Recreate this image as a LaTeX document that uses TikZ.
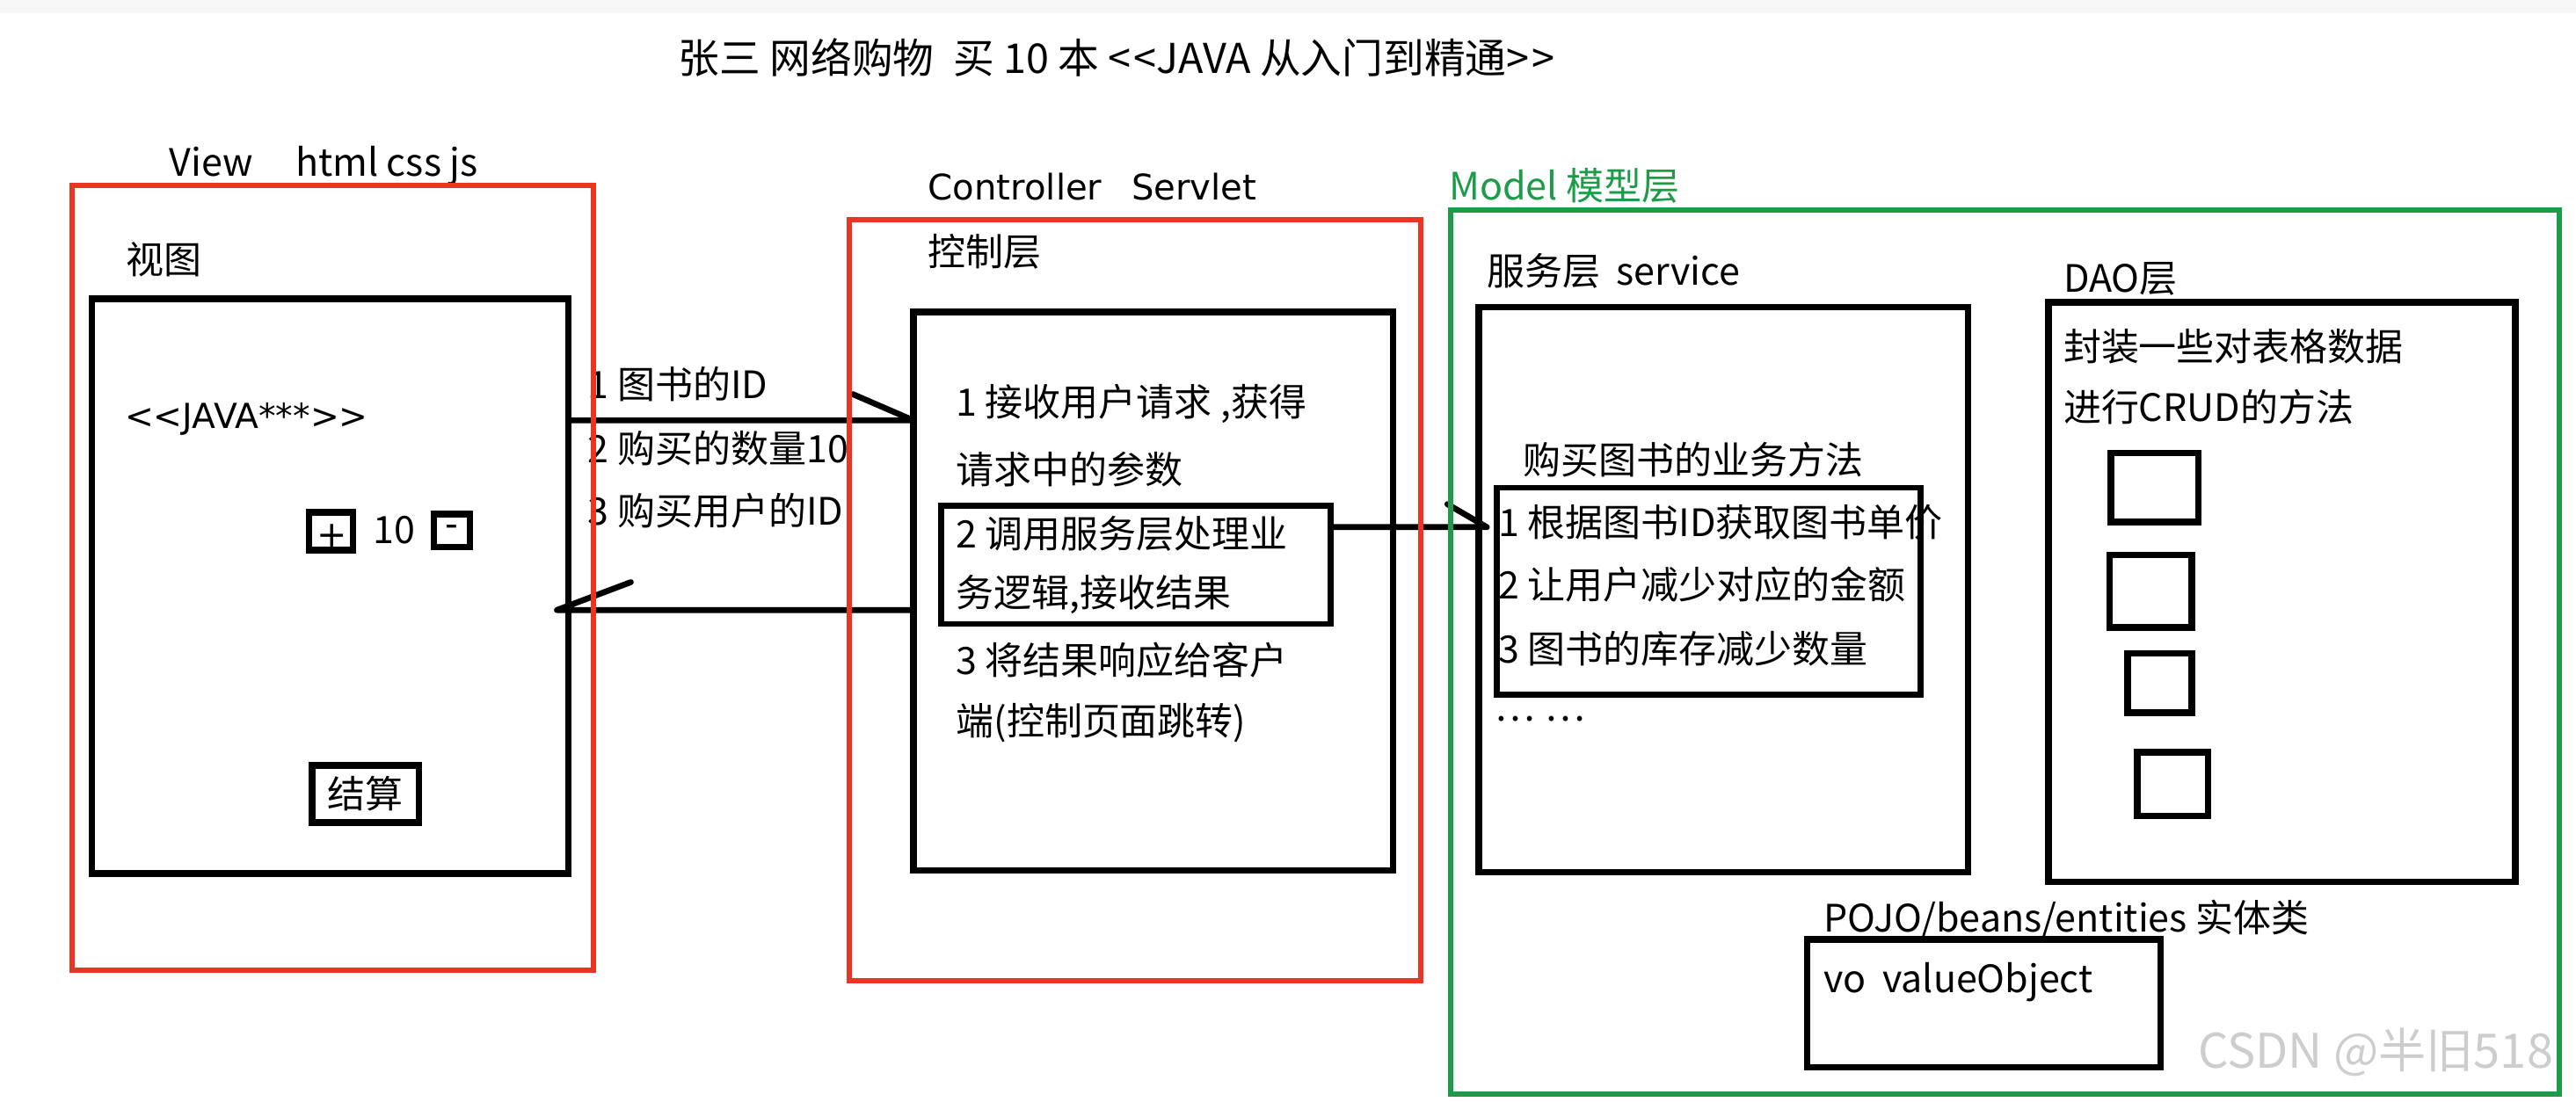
\documentclass[tikz,border=0pt]{standalone}
\usepackage{fontspec}
\setmainfont{Noto Sans CJK SC}
\newfontfamily\dvfont{DejaVu Sans}
\usetikzlibrary{calc}
\definecolor{fred}{RGB}{236,52,36}
\definecolor{fgreen}{RGB}{28,155,72}
\definecolor{wmark}{RGB}{205,205,205}
\begin{document}
\begin{tikzpicture}[x=1pt,y=-1pt,
  every node/.style={inner sep=0pt, outer sep=0pt},
  txt/.style={anchor=west, font=\fontsize{23}{27}\selectfont},
  blkbox/.style={draw=black, line width=4pt},
  thinbox/.style={draw=black, line width=3.5pt},
  redbox/.style={draw=fred, line width=3.2pt},
  grnbox/.style={draw=fgreen, line width=3.2pt},
  conn/.style={draw=black, line width=3.6pt, line cap=round, line join=round}]

\useasboundingbox (0,0) rectangle (1568,671);
\fill[gray!6] (0,0) rectangle (1568,8);

% title
\node[txt, font=\fontsize{25}{29}\selectfont] (title) at (413,35) {张三 网络购物\hspace{6pt} 买 10 本 <\kern1.5pt<JAVA 从入门到精通>\kern1.5pt>};

% ---------- View ----------
\node[txt] (viewlbl) at (103,101) {View\hspace{26pt}html css js};
\node[txt] (viewcn) at (77,158) {视图};
\node[blkbox, minimum width=290pt, minimum height=350pt] (vin) at (201,357) {};
\node[txt, font=\dvfont\fontsize{21}{25}\selectfont] (book) at (76,255) {<<JAVA***>>};
\node[blkbox, minimum width=27pt, minimum height=23pt] (plus) at (201.5,323.5) {};
\node[font=\dvfont\fontsize{22}{24}\selectfont] (plustxt) at (202,326) {+};
\node[font=\fontsize{23}{27}\selectfont] (qty) at (240,323) {10};
\node[blkbox, minimum width=22pt, minimum height=20pt] (minus) at (275,323) {};
\node[font=\dvfont\fontsize{22}{24}\selectfont] (minustxt) at (275,323) {-};
\node[blkbox, minimum width=65pt, minimum height=35pt, font=\fontsize{23}{27}\selectfont] (pay) at (222.5,483.5) {结算};

% request parameters
\node[txt] (p1) at (358,234) {1 图书的ID};
\node[txt] (p2) at (358,273) {2 购买的数量10};
\node[txt] (p3) at (358,311) {3 购买用户的ID};

% ---------- Controller ----------
\node[txt, font=\dvfont\fontsize{21.5}{25}\selectfont] (ctrllbl) at (565,114) {Controller\hspace{18pt}Servlet};
\node[txt] (ctrlcn) at (565,153) {控制层};
\node[blkbox, minimum width=292pt, minimum height=340pt] (cin) at (702,360) {};
\node[txt] (c1a) at (582,246) {1 接收用户请求 ,获得};
\node[txt] (c1b) at (582,286) {请求中的参数};
\node[thinbox, minimum width=237pt, minimum height=72pt] (cstep) at (691.5,344) {};
\node[txt] (c2a) at (582,325) {2 调用服务层处理业};
\node[txt] (c2b) at (582,362) {务逻辑,接收结果};
\node[txt] (c3a) at (582,402) {3 将结果响应给客户};
\node[txt] (c3b) at (582,440) {端(控制页面跳转)};

% ---------- Model ----------
\node[txt, text=fgreen] (modellbl) at (882,113) {Model 模型层};
\node[txt] (svclbl) at (905,165) {服务层\hspace{10pt}service};
\node[blkbox, minimum width=298pt, minimum height=344pt] (svc) at (1049,359) {};
\node[txt] (svcm) at (927,280) {购买图书的业务方法};
\node[thinbox, minimum width=258pt, minimum height=126pt] (svcin) at (1040,360) {};
\node[txt] (s1) at (912,318) {1 根据图书ID获取图书单价};
\node[txt] (s2) at (912,356) {2 让用户减少对应的金额};
\node[txt] (s3) at (912,395) {3 图书的库存减少数量};
\node[txt] (sdots) at (910,438) {…\hspace{6pt}…};

\node[txt] (daolbl) at (1256,170) {DAO层};
\node[blkbox, minimum width=284pt, minimum height=353pt] (dao) at (1389,360.5) {};
\node[txt] (d1) at (1256,211) {封装一些对表格数据};
\node[txt] (d2) at (1256,248) {进行CRUD的方法};
\node[blkbox, minimum width=53pt, minimum height=42pt] (sq1) at (1311.5,297) {};
\node[blkbox, minimum width=50pt, minimum height=44pt] (sq2) at (1309,360) {};
\node[blkbox, minimum width=39pt, minimum height=36pt] (sq3) at (1314.5,416) {};
\node[blkbox, minimum width=43pt, minimum height=39pt] (sq4) at (1322.5,477.5) {};

\node[txt] (pojolbl) at (1110,560) {POJO/beans/entities 实体类};
\node[blkbox, minimum width=215pt, minimum height=78pt] (vo) at (1207.5,611) {};
\node[txt] (votxt) at (1110,598) {vo\hspace{10pt}valueObject};

% ---------- connectors ----------
\coordinate (reqy) at (0,256);
\coordinate (resy) at (0,371.5);
\coordinate (svy) at (0,321);
\path[conn] (vin.east |- reqy) -- (cin.west |- reqy) -- ++(-37,-16);
\path[conn] (cin.west |- resy) -- ([xshift=-7pt]vin.east |- resy) -- ++(45,-17);
\path[conn] (cstep.east |- svy) -- ([xshift=-6pt]svcin.west |- svy) -- ++(-24,-14);

% ---------- layer frames ----------
\node[redbox, minimum width=317pt, minimum height=478pt] (viewframe) at (202.5,352) {};
\node[redbox, minimum width=348pt, minimum height=463pt] (ctrlframe) at (691,365.5) {};
\node[grnbox, minimum width=675pt, minimum height=538pt] (modelframe) at (1220.5,397) {};

% watermark
\node[txt, text=wmark, font=\fontsize{29}{33}\selectfont] (wm) at (1338,641) {CSDN @半旧518};
\end{tikzpicture}
\end{document}
